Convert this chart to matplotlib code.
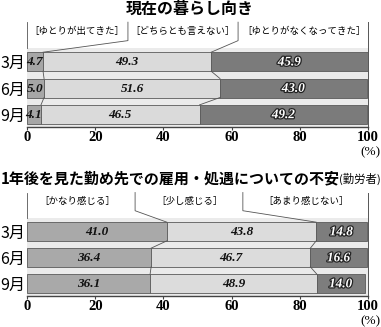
import matplotlib
matplotlib.use("Agg")
import matplotlib.pyplot as plt
import matplotlib.patheffects as pe
import numpy as np

plt.rcParams["font.family"] = ["Noto Sans CJK JP", "DejaVu Sans"]

months = ["3月", "6月", "9月"]

# 現在の暮らし向き
living_labels = ["［ゆとりが出てきた］", "［どちらとも言えない］", "［ゆとりがなくなってきた］"]
living_more = [4.7, 5.0, 4.1]
living_neutral = [49.3, 51.6, 46.5]
living_less = [45.9, 43.0, 49.2]

# 雇用・処遇についての不安
job_labels = ["［かなり感じる］", "［少し感じる］", "［あまり感じない］"]
job_strong = [41.0, 36.4, 36.1]
job_some = [43.8, 46.7, 48.9]
job_little = [14.8, 16.6, 14.0]

ticks = [0, 20, 40, 60, 80, 100]

W, H = 381, 327
BAR_H = 0.72
LINE = "#555555"


def fig_box(left_px, top_px, right_px, bottom_px):
    return [left_px / W, 1 - bottom_px / H, (right_px - left_px) / W, (bottom_px - top_px) / H]


def draw_panel(ax, series, colors, labels, label_x, sep_x):
    y = np.arange(len(months))
    left = np.zeros(len(months))
    bounds = []
    for k, (vals, col) in enumerate(zip(series, colors)):
        vals = np.array(vals)
        ax.barh(y, vals, left=left, height=BAR_H, color=col,
                edgecolor="#5a5a5a", linewidth=0.6, zorder=2)
        dark = k == len(series) - 1
        for yi, l, v in zip(y, left, vals):
            t = ax.text(l + v / 2, yi + 0.03, f"{v:.1f}", ha="center", va="center",
                        family="Liberation Serif", weight="bold", style="italic",
                        fontsize=9.5, color="white" if dark else "#111111", zorder=4)
            if dark:
                t.set_path_effects([pe.withStroke(linewidth=1.8, foreground="#222222")])
        left = left + vals
        bounds.append(left.copy())

    # stepped connectors between the rows
    for b in bounds[:-1]:
        for i in range(len(months) - 1):
            ax.plot([b[i], b[i + 1]], [i + BAR_H / 2, i + 1 - BAR_H / 2],
                    color=LINE, lw=0.6, zorder=3)

    # legend dividers leading to the first row
    for b, sx in zip(bounds[:-1], sep_x):
        ax.plot([sx, sx, b[0]], [-1.5, -0.8, -BAR_H / 2], color=LINE, lw=0.6, clip_on=False)
    ax.plot([0, 0], [-1.5, -0.52], color=LINE, lw=0.6, clip_on=False)
    ax.plot([100, 100], [-1.5, 2.48], color=LINE, lw=0.7, clip_on=False)

    for lx, lab in zip(label_x, labels):
        ax.text(lx, -1.15, lab, ha="center", va="center", fontsize=6.8, clip_on=False)

    ax.set_facecolor("#ebebeb")
    ax.set_xlim(0, 100)
    ax.set_ylim(2.48, -0.52)
    ax.set_yticks(y, months, fontsize=11.5)
    ax.tick_params(axis="y", length=0, pad=1.5)
    ax.set_xticks(ticks)
    ax.set_xticklabels([str(t) for t in ticks], family="Liberation Serif",
                       weight="bold", fontsize=10.5)
    ax.tick_params(axis="x", length=2, pad=1, color="#444444")
    for side in ["top", "left", "right"]:
        ax.spines[side].set_visible(False)
    ax.spines["bottom"].set_color("#444444")
    ax.spines["bottom"].set_linewidth(1.0)


fig = plt.figure(figsize=(W / 100, H / 100), dpi=100)

ax1 = fig.add_axes(fig_box(27, 48, 368, 127))
draw_panel(ax1, [living_more, living_neutral, living_less],
           ["#a6a6a6", "#dadada", "#7b7b7b"],
           living_labels, [14.7, 45.5, 81.2], [29.6, 61.9])
fig.text(190 / W, 1 - 9 / H, "現在の暮らし向き", ha="center", va="center",
         fontsize=11.5, weight="bold")
fig.text(370 / W, 1 - 152 / H, "(%)", ha="center", va="center",
         family="Liberation Serif", fontsize=9.5)

ax2 = fig.add_axes(fig_box(27, 218, 368, 296))
draw_panel(ax2, [job_strong, job_some, job_little],
           ["#a9a9a9", "#dcdcdc", "#7d7d7d"],
           job_labels, [14.7, 47.8, 81.8], [31.7, 63.3])
fig.text(1 / W, 1 - 178 / H, "1年後を見た勤め先での雇用・処遇についての不安",
         ha="left", va="center", fontsize=10.8, weight="bold")
fig.text(381 / W, 1 - 179 / H, "(勤労者)", ha="right", va="center", fontsize=8.2)
fig.text(370 / W, 1 - 321 / H, "(%)", ha="center", va="center",
         family="Liberation Serif", fontsize=9.5)

fig.savefig("out.png", dpi=100, facecolor="white")
